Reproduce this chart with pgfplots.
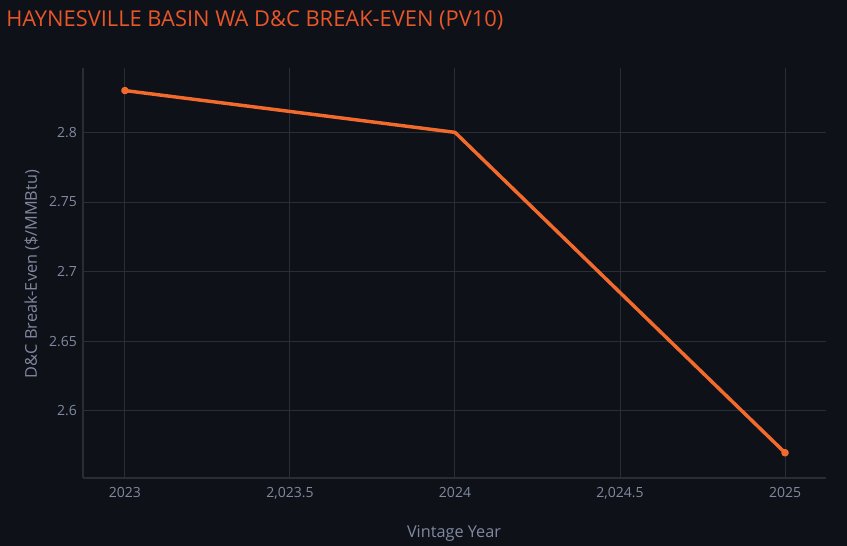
\documentclass[border=0pt]{standalone}
\usepackage{pgfplots}
\pgfplotsset{compat=1.18}
\usepackage{fontspec}
\setmainfont{Open Sans}
\definecolor{bgc}{HTML}{0E1117}
\definecolor{gridc}{HTML}{2A2D33}
\definecolor{tickc}{HTML}{8089A0}
\definecolor{titlec}{HTML}{E8562A}
\definecolor{linec}{HTML}{F26B2D}
% 1px = 0.75pt; page 847x546 px
\begin{document}
\begin{tikzpicture}
  \fill[bgc] (0pt,0pt) rectangle (635.25pt,409.5pt);
  \useasboundingbox (0pt,0pt) rectangle (635.25pt,409.5pt);
  \begin{axis}[
    at={(62.25pt,51pt)}, anchor=south west,
    scale only axis,
    width=557.25pt, height=307.5pt,
    xmin=2022.873, xmax=2025.124,
    ymin=2.5519, ymax=2.8462,
    axis x line=bottom, axis y line=left,
    axis line style={-, draw=gridc, line width=0.9pt},
    xtick={2023,2023.5,2024,2024.5,2025},
    xticklabels={2023,{2,023.5},2024,{2,024.5},2025},
    ytick={2.6,2.65,2.7,2.75,2.8},
    yticklabels={2.6,2.65,2.7,2.75,2.8},
    major tick length=0pt,
    grid=major,
    major grid style={draw=gridc, line width=0.75pt},
    tick label style={font=\fontsize{10.5}{12}\selectfont, text=tickc},
    xticklabel style={yshift=-3.5pt},
    yticklabel style={xshift=-1pt},
    clip=false,
  ]
    \addplot[linec, line width=2.6pt, line cap=round, line join=round,
      mark=*, mark indices={1,3}, mark size=1.5pt, mark options={fill=linec, draw=none}]
      coordinates {
        (2023, 2.83)
        (2024, 2.80)
        (2025, 2.57)
      };
  \end{axis}
  \node[anchor=west, text=titlec, font=\fontsize{16.4}{19}\selectfont, inner sep=0pt] at (4.5pt,394.5pt) {HAYNESVILLE BASIN WA D\&C BREAK-EVEN (PV10)};
  \node[text=tickc, font=\fontsize{12.2}{14}\selectfont, inner sep=0pt] at (340.5pt,9.5pt) {Vintage Year};
  \node[text=tickc, font=\fontsize{12.2}{14}\selectfont, inner sep=0pt, rotate=90] at (24pt,204pt) {D\&C Break-Even (\$/MMBtu)};
\end{tikzpicture}
\end{document}
